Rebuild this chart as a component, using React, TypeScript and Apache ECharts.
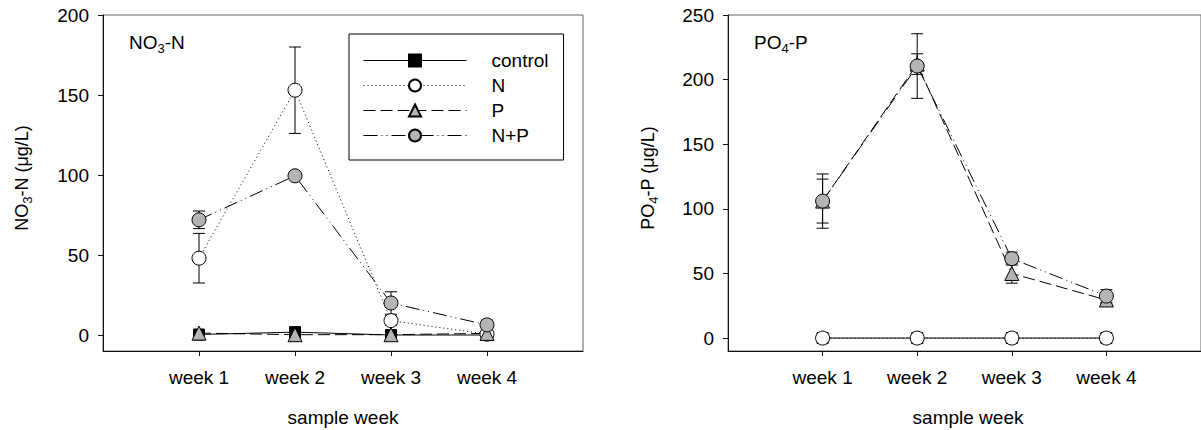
import React, { useEffect, useRef } from 'react';
import * as echarts from 'echarts';

// ---------- data ----------
const weeks = ['week 1', 'week 2', 'week 3', 'week 4'];
const weekPos = [1, 2, 3, 4];
const seriesNames = ['control', 'N', 'P', 'N+P'];

// NO3-N (µg/L)
const no3Control = [0.3, 1.8, 0, 0];
const no3N = [48, 153, 9, 0.5];
const no3P = [1.2, 0.2, 0.2, 1];
const no3NP = [72, 99.5, 20, 6.3];
const no3ControlErr = [0, 0, 0, 0];
const no3NErr = [15.5, 27, 3, 1];
const no3PErr = [0, 0, 0, 0];
const no3NPErr = [5.5, 1, 7, 3];

// PO4-P (µg/L)
const po4Control = [0, 0, 0, 0];
const po4N = [0, 0, 0, 0];
const po4P = [106, 212, 50, 29.5];
const po4NP = [106, 210.5, 61.5, 32.5];
const po4ControlErr = [0, 0, 0, 0];
const po4NErr = [0, 0, 0, 0];
const po4PErr = [17, 8, 7.5, 3];
const po4NPErr = [21, 25, 5, 5];

const no3Ticks = [0, 50, 100, 150, 200];
const po4Ticks = [0, 50, 100, 150, 200, 250];

// ---------- styles ----------
const FONT = '"Liberation Sans", Arial, Helvetica, sans-serif';
const GRAY = '#b4b4b4';
const marker: Record<string, any> = {
  control: { symbol: 'rect', symbolSize: 11, fill: '#000', dash: 'solid' },
  N: { symbol: 'circle', symbolSize: 14, fill: '#fff', dash: [1, 3] },
  P: { symbol: 'triangle', symbolSize: 14, fill: GRAY, dash: [12, 5] },
  'N+P': { symbol: 'circle', symbolSize: 14, fill: GRAY, dash: [14, 4, 1, 4, 1, 4] },
};

function lineSeries(name: string, vals: number[], axis: number) {
  const m = marker[name];
  return {
    type: 'line',
    name,
    xAxisIndex: axis,
    yAxisIndex: axis,
    z: 3,
    symbol: m.symbol,
    symbolSize: m.symbolSize,
    showSymbol: true,
    itemStyle: { color: m.fill, borderColor: '#000', borderWidth: 1, opacity: 1 },
    lineStyle: { color: '#000', width: 1, type: m.dash },
    emphasis: { disabled: true },
    data: weekPos.map((x, i) => [x, vals[i]]),
  };
}

function errSeries(axis: number, groups: [number[], number[]][]) {
  const data: number[][] = [];
  groups.forEach(([vals, errs]) =>
    vals.forEach((v, i) => {
      if (errs[i] > 0) data.push([weekPos[i], v - errs[i], v + errs[i]]);
    })
  );
  return {
    type: 'custom',
    xAxisIndex: axis,
    yAxisIndex: axis,
    z: 1,
    silent: true,
    encode: { x: 0, y: [1, 2] },
    data,
    renderItem: (_p: any, api: any) => {
      const lo = api.coord([api.value(0), api.value(1)]);
      const hi = api.coord([api.value(0), api.value(2)]);
      const w = 6;
      const st = { stroke: '#000', lineWidth: 1 };
      return {
        type: 'group',
        children: [
          { type: 'line', shape: { x1: lo[0], y1: lo[1], x2: hi[0], y2: hi[1] }, style: st },
          { type: 'line', shape: { x1: lo[0] - w, y1: lo[1], x2: lo[0] + w, y2: lo[1] }, style: st },
          { type: 'line', shape: { x1: hi[0] - w, y1: hi[1], x2: hi[0] + w, y2: hi[1] }, style: st },
        ],
      };
    },
  };
}

function richStyle(size: number) {
  return {
    m: { fontSize: size, fontFamily: FONT, fill: '#000', lineHeight: size + 6 },
    s: { fontSize: Math.round(size * 0.7), fontFamily: FONT, fill: '#000', lineHeight: 10, verticalAlign: 'bottom' },
  };
}

function xAxisCfg(idx: number) {
  return {
    type: 'value',
    gridIndex: idx,
    min: 0,
    max: 5,
    axisLine: { show: true, onZero: false, lineStyle: { color: '#111', width: 1 } },
    axisTick: { show: true, inside: false, length: 5, customValues: weekPos, lineStyle: { color: '#111' } },
    axisLabel: {
      customValues: weekPos,
      formatter: (v: number) => weeks[Math.round(v) - 1] ?? '',
      margin: 17,
      fontSize: 19,
      fontFamily: FONT,
      color: '#000',
    },
    splitLine: { show: false },
  };
}

function yAxisCfg(idx: number, ticks: number[], max: number) {
  return {
    type: 'value',
    gridIndex: idx,
    min: -10,
    max,
    axisLine: { show: true, onZero: false, lineStyle: { color: '#111', width: 1 } },
    axisTick: { show: true, inside: false, length: 5, customValues: ticks, lineStyle: { color: '#111' } },
    axisLabel: {
      customValues: ticks,
      margin: 14,
      fontSize: 19,
      fontFamily: FONT,
      color: '#000',
    },
    splitLine: { show: false },
  };
}

export default function App() {
  const ref = useRef<HTMLDivElement>(null);

  useEffect(() => {
    if (!ref.current) return;
    const chart = echarts.init(ref.current, undefined, { renderer: 'svg' });

    const option: any = {
      animation: false,
      backgroundColor: '#fff',
      grid: [
        { left: 103, top: 15, width: 480, height: 336, show: true, borderColor: '#666', borderWidth: 1, backgroundColor: 'transparent' },
        { left: 728, top: 15, width: 480, height: 336, show: true, borderColor: '#666', borderWidth: 1, backgroundColor: 'transparent' },
      ],
      xAxis: [xAxisCfg(0), xAxisCfg(1)],
      yAxis: [yAxisCfg(0, no3Ticks, 200), yAxisCfg(1, po4Ticks, 250)],
      legend: {
        data: seriesNames,
        orient: 'vertical',
        left: 349,
        top: 34,
        padding: [17, 15, 15, 14],
        borderColor: '#000',
        borderWidth: 1,
        backgroundColor: '#fff',
        itemWidth: 103,
        itemHeight: 15,
        itemGap: 6,
        selectedMode: false,
        lineStyle: { width: 1 },
        textStyle: { fontSize: 19, fontFamily: FONT, color: '#000', padding: [0, 0, 0, 20] },
      },
      series: [
        errSeries(0, [
          [no3Control, no3ControlErr],
          [no3N, no3NErr],
          [no3P, no3PErr],
          [no3NP, no3NPErr],
        ]),
        lineSeries('control', no3Control, 0),
        lineSeries('N', no3N, 0),
        lineSeries('P', no3P, 0),
        lineSeries('N+P', no3NP, 0),
        errSeries(1, [
          [po4Control, po4ControlErr],
          [po4N, po4NErr],
          [po4P, po4PErr],
          [po4NP, po4NPErr],
        ]),
        lineSeries('control', po4Control, 1),
        lineSeries('N', po4N, 1),
        lineSeries('P', po4P, 1),
        lineSeries('N+P', po4NP, 1),
      ],
      graphic: [
        {
          type: 'text', x: 129, y: 42, z: 10,
          style: { text: '{m|NO}{s|3}{m|-N}', rich: richStyle(19), align: 'left', verticalAlign: 'middle' },
        },
        {
          type: 'text', x: 754, y: 42, z: 10,
          style: { text: '{m|PO}{s|4}{m|-P}', rich: richStyle(19), align: 'left', verticalAlign: 'middle' },
        },
        {
          type: 'text', x: 22, y: 178, rotation: Math.PI / 2, z: 10,
          style: { text: '{m|NO}{s|3}{m|-N (μg/L)}', rich: richStyle(18), align: 'center', verticalAlign: 'middle' },
        },
        {
          type: 'text', x: 648, y: 178, rotation: Math.PI / 2, z: 10,
          style: { text: '{m|PO}{s|4}{m|-P (μg/L)}', rich: richStyle(18), align: 'center', verticalAlign: 'middle' },
        },
        {
          type: 'text', x: 343, y: 417, z: 10,
          style: { text: 'sample week', fontSize: 19, fontFamily: FONT, fill: '#000', align: 'center', verticalAlign: 'middle' },
        },
        {
          type: 'text', x: 968, y: 417, z: 10,
          style: { text: 'sample week', fontSize: 19, fontFamily: FONT, fill: '#000', align: 'center', verticalAlign: 'middle' },
        },
      ],
    };

    chart.setOption(option);
    return () => chart.dispose();
  }, []);

  return (
    <div
      ref={ref}
      style={{ position: 'absolute', left: 0, top: 0, width: 1201, height: 430, background: '#fff' }}
    />
  );
}
